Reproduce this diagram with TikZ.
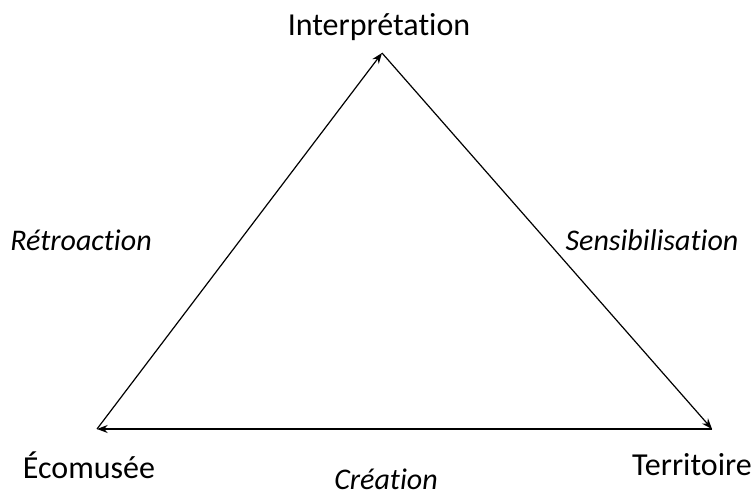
\documentclass[tikz,border=0pt]{standalone}
\usepackage{fontspec}
\setmainfont{Carlito}[Ligatures=NoCommon]
\usetikzlibrary{arrows.meta,positioning}

\begin{document}
\begin{tikzpicture}
		[x=0.75pt, y=-0.75pt, font=\fontsize{24}{28}\selectfont,
		 lien/.style={-{Stealth[length=8pt,width=6pt]}, line width=0.9pt},
		 etiq/.style={font=\fontsize{22.5}{26}\selectfont\itshape}]
		\useasboundingbox (0,0) rectangle (755,496);
		\coordinate (I) at (382,53);
		\coordinate (E) at (97,429);
		\coordinate (T) at (712,429);
		\node (interp) at (379,27) {Interprétation};
		\node (ecom) at (89,465) {Écomusée};
		\node (terr) at (692,465) {Territoire};
		\node[etiq] (retro) at (81,240) {Rétroaction};
		\node[etiq] (sensi) at (652,240) {Sensibilisation};
		\node[etiq, inner sep=0pt] (crea) at (386,479) {Création};
		
		\draw[lien] (E) -- (I);
		\draw[lien] (I) -- (T);
		\draw[lien] (T) -- (E);
		\end{tikzpicture}
\end{document}
